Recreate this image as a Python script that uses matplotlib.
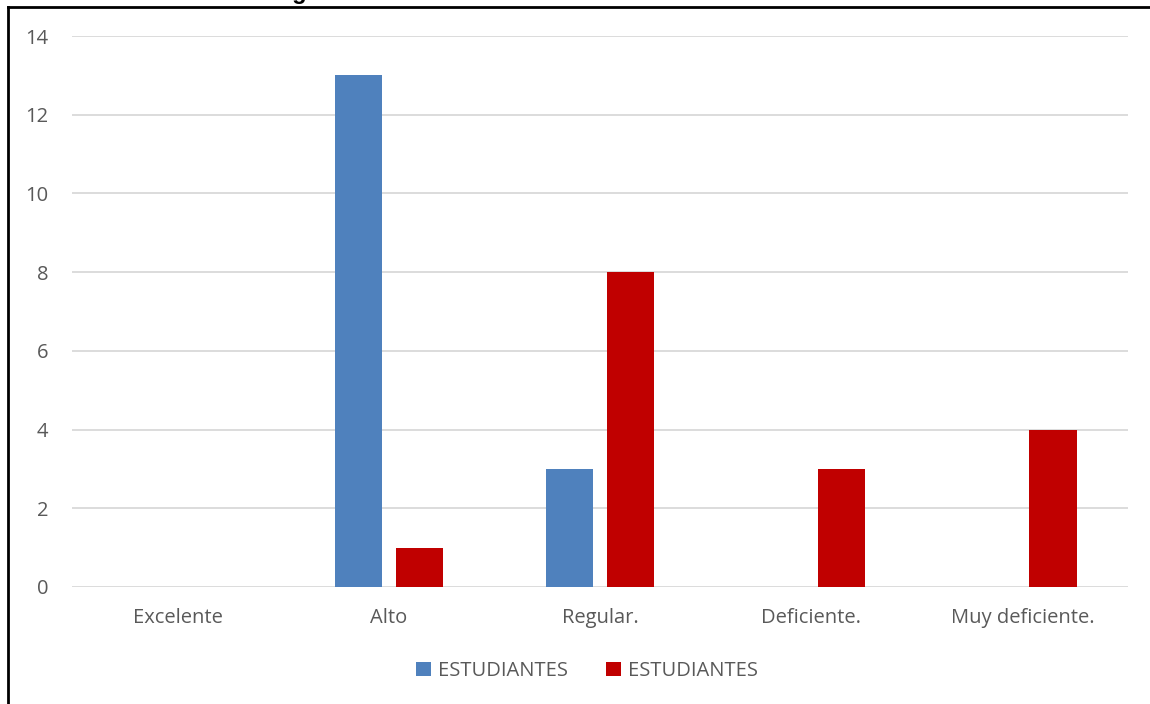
import numpy as np
import matplotlib
matplotlib.use("Agg")
import matplotlib.pyplot as plt
from matplotlib.lines import Line2D

categories = ["Excelente", "Alto", "Regular.", "Deficiente.", "Muy deficiente."]
serie_azul = [0, 13, 3, 0, 0]
serie_roja = [0, 1, 8, 3, 4]
etiquetas = ["ESTUDIANTES", "ESTUDIANTES"]
yticks = [0, 2, 4, 6, 8, 10, 12, 14]

plt.rcParams['font.family'] = ['Open Sans', 'DejaVu Sans']
gris = '#595959'

fig = plt.figure(figsize=(11.5, 7.04), dpi=100)
ax = fig.add_axes([72 / 1150, 1 - 587 / 704, (1128 - 72) / 1150, (587 - 36) / 704])

x = np.arange(len(categories))
w = 0.223
ax.bar(x - 0.145, serie_azul, w, color='#4F81BD', label=etiquetas[0], zorder=3)
ax.bar(x + 0.145, serie_roja, w, color='#C00000', label=etiquetas[1], zorder=3)

ax.set_xlim(-0.5, len(categories) - 0.5)
ax.set_ylim(0, 14)
ax.set_yticks(yticks)
ax.set_xticks(x)
ax.set_xticklabels(categories)
ax.tick_params(axis='both', length=0, colors=gris, labelsize=14.5)
ax.tick_params(axis='y', pad=17)
ax.tick_params(axis='x', pad=15)
ax.grid(axis='y', color='#D9D9D9', linewidth=1.3, zorder=0)
for s in ax.spines.values():
    s.set_visible(False)

leg = ax.legend(loc='center', bbox_to_anchor=(587 / 1150, 1 - 671 / 704),
                bbox_transform=fig.transFigure, ncol=2, frameon=False,
                fontsize=14.5, handlelength=0.75, handleheight=0.75,
                handletextpad=0.35, columnspacing=1.9)
for t in leg.get_texts():
    t.set_color(gris)

# marco del recuadro (borde izquierdo y superior)
fig.add_artist(Line2D([8 / 1150, 8 / 1150], [0, 1 - 6.5 / 704], color='black', lw=2, transform=fig.transFigure))
fig.add_artist(Line2D([8 / 1150, 1], [1 - 6.5 / 704, 1 - 6.5 / 704], color='black', lw=2, transform=fig.transFigure))

# titulo cortado en la parte superior
fig.text(158 / 1150, 1 + 1.5 / 704, "Resultados generales", fontsize=17, fontweight='bold',
         family='Liberation Sans', va='baseline', ha='left')

fig.savefig("out.png", dpi=100)
